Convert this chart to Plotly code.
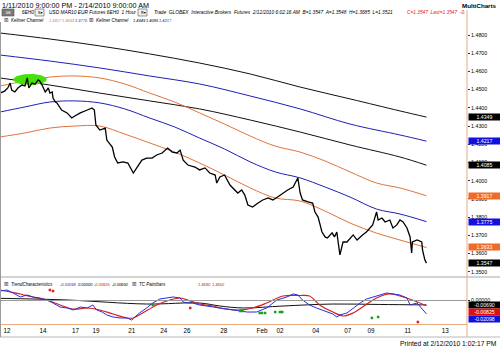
import numpy as np
import plotly.graph_objects as go

# ---------------- data ----------------
# hourly bar index (bar 0 = 1/11/2010 21:00) and closing price of 6EH0
price_bar = [0, 4, 6, 10, 13, 15, 19, 23, 28, 32, 35, 37, 41, 45, 49, 51, 54, 58, 62, 64,
             67, 68, 71, 73, 77, 79, 86, 92, 96, 103, 112, 118, 121, 123, 128, 135, 137, 144, 147, 151,
             158, 164, 171, 176, 182, 188, 195, 201, 208, 215, 221, 227, 231, 235, 241, 250, 256, 263, 269, 276,
             278, 282, 288, 295, 299, 305, 310, 314, 318, 324, 331, 337, 344, 350, 356, 363, 369, 376, 382, 385,
             388, 395, 401, 404, 408, 413, 417, 420, 426, 429, 432, 436, 440, 445, 449, 453, 458, 462, 465, 470,
             474, 478, 483, 485, 490, 494, 500, 504, 509, 513, 517, 522, 526, 528, 529, 535, 541, 542, 545, 547]
price_close = [1.4481, 1.4487, 1.4492, 1.4509, 1.4536, 1.4498, 1.4487, 1.4509, 1.4525, 1.4520,
               1.4564, 1.4509, 1.4536, 1.4530, 1.4553, 1.4547, 1.4525, 1.4487, 1.4509, 1.4481,
               1.4487, 1.4454, 1.4432, 1.4427, 1.4405, 1.4388, 1.4372, 1.4344, 1.4355, 1.4372,
               1.4388, 1.4399, 1.4388, 1.4306, 1.4278, 1.4289, 1.4223, 1.4185, 1.4130, 1.4097,
               1.4103, 1.4097, 1.4042, 1.4075, 1.4113, 1.4124, 1.4124, 1.4141, 1.4152, 1.4179,
               1.4157, 1.4152, 1.4168, 1.4113, 1.4086, 1.4075, 1.4059, 1.4070, 1.4042, 1.4031,
               1.3987, 1.4020, 1.4031, 1.3976, 1.3960, 1.3932, 1.3949, 1.3921, 1.3866, 1.3855,
               1.3877, 1.3894, 1.3905, 1.3894, 1.3910, 1.3932, 1.3949, 1.3965, 1.4015, 1.3932,
               1.3894, 1.3883, 1.3877, 1.3828, 1.3800, 1.3718, 1.3691, 1.3685, 1.3713, 1.3691,
               1.3718, 1.3592, 1.3663, 1.3663, 1.3685, 1.3702, 1.3674, 1.3691, 1.3702, 1.3718,
               1.3740, 1.3757, 1.3828, 1.3784, 1.3795, 1.3773, 1.3784, 1.3740, 1.3757, 1.3784,
               1.3773, 1.3740, 1.3691, 1.3603, 1.3663, 1.3674, 1.3663, 1.3619, 1.3564, 1.3547]

# fast Keltner channel (orange bands, blue centre line)
kc1_bar = [0, 32, 64, 96, 128, 160, 192, 224, 256, 288, 321, 353, 385, 417, 449, 483, 513, 547]
kc1_upper = [1.4520, 1.4547, 1.4569, 1.4575, 1.4564, 1.4531, 1.4481, 1.4432, 1.4372, 1.4311,
             1.4245, 1.4190, 1.4157, 1.4108, 1.4048, 1.3987, 1.3960, 1.3917]
kc1_mid = [1.4377, 1.4405, 1.4432, 1.4438, 1.4427, 1.4394, 1.4344, 1.4295, 1.4234, 1.4174,
           1.4103, 1.4048, 1.4015, 1.3965, 1.3910, 1.3844, 1.3817, 1.3775]
kc1_lower = [1.4240, 1.4262, 1.4289, 1.4300, 1.4300, 1.4256, 1.4207, 1.4157, 1.4097, 1.4031,
             1.3960, 1.3905, 1.3888, 1.3833, 1.3767, 1.3712, 1.3674, 1.3633]

# slow Keltner channel (black bands, blue centre line)
kc2_bar = [0, 64, 128, 192, 256, 321, 385, 449, 513, 547]
kc2_upper = [1.4811, 1.4778, 1.4740, 1.4696, 1.4646, 1.4586, 1.4514, 1.4449, 1.4383, 1.4349]
kc2_mid = [1.4690, 1.4657, 1.4619, 1.4575, 1.4531, 1.4465, 1.4394, 1.4311, 1.4251, 1.4217]
kc2_lower = [1.4564, 1.4525, 1.4481, 1.4438, 1.4394, 1.4333, 1.4267, 1.4196, 1.4130, 1.4085]

# TrendCharacteristics oscillator
tc_blue_bar = [0, 9, 17, 26, 35, 42, 51, 60, 68, 77, 86, 94, 103, 112, 119, 124, 131, 137, 145, 154,
               163, 169, 173, 179, 188, 196, 205, 214, 222, 231, 235, 240, 247, 256, 265, 273, 282, 299, 317, 329,
               342, 355, 368, 376, 382, 388, 397, 406, 419, 427, 432, 436, 445, 453, 462, 470, 478, 487, 496, 504,
               513, 522, 526, 535, 542, 547]
tc_blue = [0.0148, 0.0164, 0.0117, 0.0055, 0.0086, 0.0055, 0.0039, 0.0008, -0.0039, -0.0102,
           -0.0117, -0.0148, -0.0102, -0.0117, -0.0070, -0.0148, -0.0180, -0.0227, -0.0258, -0.0273,
           -0.0273, -0.0305, -0.0258, -0.0195, -0.0117, -0.0039, 0.0023, 0.0039, 0.0055, 0.0039,
           -0.0023, -0.0039, -0.0039, -0.0070, -0.0086, -0.0102, -0.0117, -0.0148, -0.0180, -0.0180,
           -0.0117, 0.0008, 0.0055, 0.0102, 0.0086, 0.0008, -0.0070, -0.0117, -0.0180, -0.0211,
           -0.0258, -0.0227, -0.0195, -0.0117, -0.0039, 0.0023, 0.0055, 0.0086, 0.0117, 0.0102,
           0.0086, 0.0039, -0.0070, -0.0039, -0.0148, -0.02098]
tc_red_bar = [0, 13, 26, 42, 60, 77, 94, 112, 128, 145, 163, 171, 183, 201, 218, 231, 244, 256, 273, 282,
              308, 324, 342, 363, 385, 397, 410, 427, 440, 453, 465, 483, 500, 513, 529, 547]
tc_red = [0.0164, 0.0133, 0.0102, 0.0055, 0.0008, -0.0070, -0.0133, -0.0117, -0.0148, -0.0211,
          -0.0273, -0.0273, -0.0195, -0.0070, 0.0008, 0.0039, -0.0008, -0.0055, -0.0086, -0.0117,
          -0.0148, -0.0117, -0.0039, 0.0070, 0.0078, 0.0070, -0.0070, -0.0180, -0.0242, -0.0195,
          -0.0102, 0.0039, 0.0102, 0.0070, 0.0008, -0.00825]
tc_black_bar = [0, 86, 188, 256, 282, 312, 363, 427, 487, 547]
tc_black = [0.0034, 0.0008, -0.0055, -0.0039, -0.0086, -0.0117, -0.0086, -0.0055, -0.0062, -0.00690]

# TC Paintbars signal dots
paint_green_bar = [196, 308, 311, 333, 336, 340, 353, 359, 362, 477, 485]
paint_green_val = [-0.0070, -0.0164, -0.0164, -0.0195, -0.0195, -0.0195, -0.0180, -0.0180, -0.0180, -0.0273, -0.0258]
paint_red_bar = [64, 68, 244, 536]
paint_red_val = [0.0164, 0.0148, -0.0117, -0.0336]

# time axis labels (calendar day at first bar of that day)
day_ticks = [9, 55, 97, 123, 169, 210, 240, 287, 336, 359, 405, 446, 476, 523, 571]
day_labels = ["12", "14", "17", "19", "21", "24", "26", "28", "Feb", "02", "04", "07", "09", "11", "13"]

price_ticks = [1.35, 1.36, 1.37, 1.38, 1.39, 1.40, 1.41, 1.42, 1.43, 1.44, 1.45, 1.46, 1.47, 1.48]

# highlighted double top (bar span, price span)
highlight_bars = (17, 60)
highlight_prices = (1.4525, 1.4586)

# ---------------- styling ----------------
ORANGE = "#e0743a"
BLUE = "#1f1fb4"
OSC_BLUE = "#2a2ae6"
OSC_RED = "#d42020"
BOX_ORANGE = "#f06a28"
FRAME = "#e8aa80"
FONT = "Liberation Sans"

W, H = 500, 348
PL, PR, PT, PB = 0, 467, 23, 324


def px(x):
    return (x - PL) / (PR - PL)


def py(y):
    return (PB - y) / (PB - PT)


fig = go.Figure()


def line(xs, ys, color, width=1.0, axis=("x", "y"), shape="spline"):
    fig.add_trace(go.Scatter(x=xs, y=ys, mode="lines", xaxis=axis[0], yaxis=axis[1],
                             line=dict(color=color, width=width, shape=shape),
                             hoverinfo="skip", showlegend=False))


# slow channel
line(kc2_bar, kc2_upper, "#111111")
line(kc2_bar, kc2_mid, BLUE)
line(kc2_bar, kc2_lower, "#111111")
# fast channel
line(kc1_bar, kc1_upper, ORANGE)
line(kc1_bar, kc1_mid, BLUE)
line(kc1_bar, kc1_lower, ORANGE)

# green highlight ellipse
t = np.linspace(0, 2 * np.pi, 80)
cx, rx = sum(highlight_bars) / 2, (highlight_bars[1] - highlight_bars[0]) / 2
cy, ry = sum(highlight_prices) / 2, (highlight_prices[1] - highlight_prices[0]) / 2
fig.add_trace(go.Scatter(x=cx + rx * np.cos(t), y=cy + ry * np.sin(t), mode="lines",
                         fill="toself", fillcolor="rgb(70,225,10)", line=dict(width=0),
                         hoverinfo="skip", showlegend=False))

# price
line(price_bar, price_close, "#000000", width=1.3, shape="linear")

# oscillator panel
line(tc_black_bar, tc_black, "#111111", width=1.0, axis=("x2", "y2"))
line(tc_red_bar, tc_red, OSC_RED, width=1.2, axis=("x2", "y2"))
line(tc_blue_bar, tc_blue, OSC_BLUE, width=1.0, axis=("x2", "y2"), shape="linear")
fig.add_trace(go.Scatter(x=paint_green_bar, y=paint_green_val, mode="markers", xaxis="x2", yaxis="y2",
                         marker=dict(symbol="square", size=2.5, color="#18a018"),
                         hoverinfo="skip", showlegend=False))
fig.add_trace(go.Scatter(x=paint_red_bar, y=paint_red_val, mode="markers", xaxis="x2", yaxis="y2",
                         marker=dict(symbol="square", size=2.5, color="#e02020"),
                         hoverinfo="skip", showlegend=False))

X_RANGE = [0, 599]
PRICE_RANGE = [1.48 - (PT + 254 - 35) / 1820.8, 1.48 + (35 - PT) / 1820.8]
OSC_RANGE = [-(PB - 300.5) / 640, (300.5 - 278) / 640]

fig.update_layout(
    width=W, height=H,
    margin=dict(l=PL, r=W - PR, t=PT, b=H - PB),
    paper_bgcolor="white", plot_bgcolor="white",
    font=dict(family=FONT, color="#000000"),
    xaxis=dict(domain=[0, 1], range=X_RANGE, anchor="y", showticklabels=False, showgrid=False,
               zeroline=False, showline=False, ticks=""),
    xaxis2=dict(domain=[0, 1], range=X_RANGE, anchor="y2", showgrid=False, zeroline=False,
                showline=True, linecolor=FRAME, linewidth=1, ticks="",
                tickvals=day_ticks, ticktext=day_labels, tickfont=dict(size=6.3, color="#000000")),
    yaxis=dict(domain=[(PB - 277) / (PB - PT), 1], range=PRICE_RANGE, side="right", anchor="x",
               showgrid=False, zeroline=False, showline=False, ticks="outside", ticklen=2,
               tickcolor="#333333", tickvals=price_ticks, ticktext=[f"{v:.4f}" for v in price_ticks],
               tickfont=dict(size=5.3)),
    yaxis2=dict(domain=[0, (PB - 278) / (PB - PT)], range=OSC_RANGE, side="right", anchor="x2",
                showgrid=False, zeroline=False, showline=False, ticks="outside", ticklen=2,
                tickcolor="#333333", tickvals=[0], ticktext=["0.00000"], tickfont=dict(size=5.3)),
)

shapes = [
    # zero line of the oscillator
    dict(type="line", xref="x2", yref="y2", x0=X_RANGE[0], x1=X_RANGE[1], y0=0, y1=0,
         line=dict(color="#9a9a9a", width=1)),
    # panel separator
    dict(type="line", xref="paper", yref="paper", x0=0, x1=px(W), y0=py(277), y1=py(277),
         line=dict(color="#a8a8a8", width=1)),
    # price-scale frame
    dict(type="line", xref="paper", yref="paper", x0=px(467), x1=px(467), y0=py(10), y1=py(337),
         line=dict(color=FRAME, width=1)),
    # status bar line
    dict(type="line", xref="paper", yref="paper", x0=0, x1=px(W), y0=py(337), y1=py(337),
         line=dict(color="#b8b8b8", width=1)),
    # left chart border
    dict(type="line", xref="paper", yref="paper", x0=px(0.5), x1=px(0.5), y0=py(22), y1=py(337),
         line=dict(color="#9a9a9a", width=1)),
    # symbol selectors in the header
    dict(type="rect", xref="paper", yref="paper", x0=px(2), x1=px(14), y0=py(16), y1=py(9),
         fillcolor="#7a7a7a", line=dict(color="#555555", width=0.6)),
    dict(type="rect", xref="paper", yref="paper", x0=px(35), x1=px(44), y0=py(16), y1=py(9),
         fillcolor="#f0f0f0", line=dict(color="#555555", width=0.6)),
    dict(type="rect", xref="paper", yref="paper", x0=px(138), x1=px(147), y0=py(16), y1=py(9),
         fillcolor="#f0f0f0", line=dict(color="#555555", width=0.6)),
]
fig.update_layout(shapes=shapes)

ann = []


def text(x, y, s, size=4.8, color="#000000", anchor="left", family=FONT):
    ann.append(dict(x=px(x), y=py(y), xref="paper", yref="paper", text=s, showarrow=False,
                    xanchor=anchor, yanchor="middle", font=dict(size=size, color=color, family=family)))


# window title line
text(0, 5, "1/11/2010 9:00:00 PM - 2/14/2010 9:00:00 AM", size=7.2)
text(W - 1, 5, "<b>MultiCharts</b>", size=6.2, anchor="right")

# instrument line
text(3.5, 12.5, "6E", size=4, color="#ffffff")
text(20, 12.5, "<i>6EH0</i>")
text(36, 12.5, "S▾", size=4, family="DejaVu Sans")
text(47, 12.5, "<i>USD MAR10 EUR Futures 6EH0  1 Hour</i>")
text(139, 12.5, "R▾", size=4, family="DejaVu Sans")
text(152, 12.5, "<i>Trade  GLOBEX  Interactive Brokers  Futures  2/12/2010 6:02:16 AM  "
               "B=1.3547  A=1.3548  H=1.3685  L=1.3521</i>")
text(405, 12.5, "<i>C=1.3547  Last=1.3547  -0.</i>", color="#e02020")

# indicator status line
VS = 4.0
text(2, 20, "☒", size=5, family="DejaVu Sans")
text(9, 20, "<i>Keltner Channel</i>", size=4.5)
text(47, 20, f"<i>{kc1_upper[-1]:.4f}</i>", size=VS, color=ORANGE)
text(60, 20, f"<i>{kc1_lower[-1]:.4f}</i>", size=VS, color=ORANGE)
text(73, 20, f"<i>{kc1_mid[-1]:.4f}</i>", size=VS, color=BLUE)
text(87, 20, "☒", size=5, family="DejaVu Sans")
text(94, 20, "<i>Keltner Channel</i>", size=4.5)
text(131, 20, f"<i>{kc2_upper[-1]:.4f}</i>", size=VS)
text(144, 20, f"<i>{kc2_lower[-1]:.4f}</i>", size=VS)
text(157, 20, f"<i>{kc2_mid[-1]:.4f}</i>", size=VS, color=BLUE)

# oscillator status line
text(2, 284, "☒", size=5, family="DejaVu Sans")
text(9, 284, "<i>TrendCharacteristics</i>", size=4.5)
text(58, 284, f"<i>{tc_blue[-1]:.5f}</i>", size=VS, color=OSC_BLUE)
text(76, 284, "<i>0.00000</i>", size=VS)
text(92, 284, f"<i>{tc_red[-1]:.5f}</i>", size=VS, color=OSC_RED)
text(110, 284, f"<i>{tc_black[-1]:.5f}</i>", size=VS)
text(130, 284, "☒", size=5, family="DejaVu Sans")
text(137, 284, "<i>TC Paintbars</i>", size=4.5)
text(196, 284, "<i>1.3690</i>", size=VS, color="#c02020")
text(210, 284, "<i>1.3652</i>", size=VS, color="#c02020")

# print stamp
text(W - 1, 343, "Printed at 2/12/2010 1:02:17 PM", size=6.7, anchor="right")


# last-value boxes on the scales
def value_box(v, yref, bg, digits, yshift=0):
    ann.append(dict(x=1, y=v, xref="paper", yref=yref, text=f"{v:.{digits}f}", showarrow=False,
                    xanchor="left", yanchor="middle", xshift=1, yshift=yshift, width=31, height=5.5,
                    bgcolor=bg, borderpad=0, align="center",
                    font=dict(size=5.2, color="#ffffff", family=FONT)))


value_box(kc2_upper[-1], "y", "#000000", 4)
value_box(kc2_mid[-1], "y", "#1010e0", 4)
value_box(kc2_lower[-1], "y", "#000000", 4)
value_box(kc1_upper[-1], "y", BOX_ORANGE, 4)
value_box(kc1_mid[-1], "y", "#1010e0", 4)
value_box(kc1_lower[-1], "y", BOX_ORANGE, 4)
value_box(price_close[-1], "y", "#000000", 4)
value_box(tc_black[-1], "y2", "#000000", 5)
value_box(tc_red[-1], "y2", "#e01010", 5, yshift=-6)
value_box(tc_blue[-1], "y2", "#1010e0", 5, yshift=-5.5)

fig.update_layout(annotations=ann)
fig.write_html("out.html")
